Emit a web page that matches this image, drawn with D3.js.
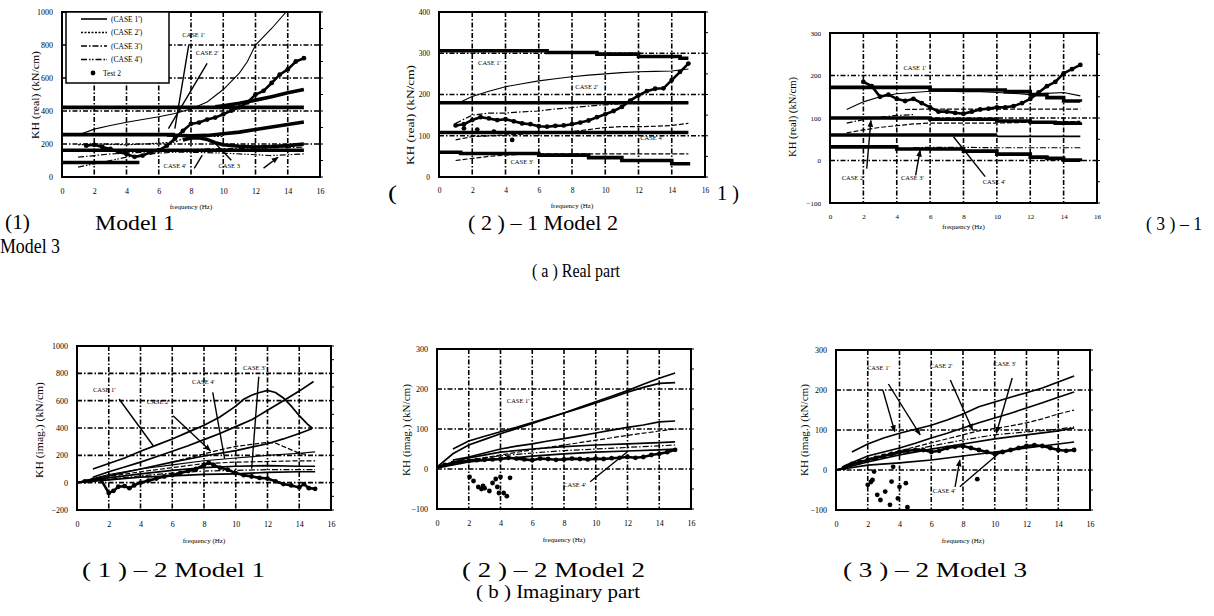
<!DOCTYPE html>
<html>
<head>
<meta charset="utf-8">
<script src="https://cdn.jsdelivr.net/npm/d3@7"></script>
<style>
  body { margin: 0; background: #fff; }
  svg { display: block; }
  text { font-family: "Liberation Serif", "Times New Roman", serif; fill: #000; }
</style>
</head>
<body>
<div id="chart"></div>
<script>
// ---- ticks ----
var freqTicks = [0, 2, 4, 6, 8, 10, 12, 14, 16];
var yTicks1000 = [0, 200, 400, 600, 800, 1000];
var yTicks400 = [0, 100, 200, 300, 400];
var yTicks300 = [-100, 0, 100, 200, 300];
var yTicksImag1 = [-200, 0, 200, 400, 600, 800, 1000];

// ---- (1) Model 1, real ----
var m1rCase1 = [[1,255],[2,290],[3,312],[4,332],[5,348],[6,365],[7,385],[8,412],[9,455],[10,530],[11,630],[11.5,700],[12,800],[13,900],[13.9,1000]];
var m1rFlatLevels = [422, 257, 162, 88];
var m1rFlatEnds = [15, 7, 15, 4.8];
var m1rRise1 = [[6.5,255],[8,250],[9,252],[10,262],[11,272],[12,288],[13,303],[14,318],[15,333]];
var m1rRise2 = [[9.5,425],[10,432],[11,447],[12,466],[13,487],[14,510],[15,530]];
var m1rHump = [[7.5,225],[8,236],[8.5,238],[9,228],[9.5,208],[10,195],[11,186],[12,182],[13,185],[14,190],[15,200]];
var m1rCase2 = [[1,195],[2,200],[3,198],[4,195],[5,200],[6,205],[7,212],[7.5,232],[8,245],[9,248],[10,245]];
var m1rCase3 = [[1,120],[2,130],[3,140],[4,145],[5,150],[6,155],[7,160],[8,165],[9,170],[10,172],[12,175],[14,178],[15,182]];
var m1rCase4 = [[1,60],[2,80],[3,100],[4,120],[5,135],[6,145],[7,150],[8,150],[10,145],[12,135],[13,130],[14,135],[15,140]];
var m1rTest = [[1.5,190],[2,195],[2.5,182],[3,170],[3.5,152],[4,140],[4.5,122],[5,130],[5.5,150],[6,162],[6.5,190],[7,232],[7.5,280],[8,322],[8.5,330],[9,348],[9.5,360],[10,380],[10.5,402],[11,422],[11.5,452],[12,500],[12.5,522],[13,570],[13.5,620],[14,652],[14.5,700],[15,720]];

// ---- (2) Model 2, real ----
var m2rTop = [[0,306],[6.5,302],[9.5,298],[12,292],[14.5,288],[15,288]];
var m2rThin = [[1.2,180],[2,195],[3,208],[4,219],[5,226],[6,233],[7,238],[8,243],[9,247],[10,250],[11,253],[12,255],[13,256],[14,257],[15,262]];
var m2rFlatLevels = [180, 108];
var m2rLow = [[0,60],[1.3,57],[6,53],[9,47],[11,40],[14,32],[15,28]];
var m2rTest = [[1,125],[1.5,128],[2,138],[2.5,145],[3,142],[3.5,138],[4,140],[4.5,135],[5,130],[5.5,128],[6,123],[6.5,122],[7,124],[7.5,125],[8,128],[8.5,132],[9,137],[9.5,145],[10,152],[10.5,160],[11,170],[11.5,185],[12,198],[12.5,208],[13,214],[13.5,215],[14,235],[14.5,255],[15,275]];
var m2rScatter = [[2.3,115],[3.3,110],[4.4,90],[1.5,118]];
var m2rDash1 = [[1,130],[2,150],[3,155],[4,155],[5,158],[6,160],[7,165],[8,168],[9,172],[10,175],[11,178],[12,180],[15,180]];
var m2rDash2 = [[1,90],[2,98],[3,100],[4,102],[5,104],[6,106],[7,108],[8,110],[9,115],[10,120],[11,122],[12,122],[13,123],[14,125],[15,130]];
var m2rDash3 = [[1,40],[2,45],[3,50],[4,53],[5,55],[6,56],[8,56],[10,56],[12,56],[15,56]];

// ---- (3) Model 3, real ----
var m3rTop = [[0,172],[6,166],[10.5,162],[12,155],[13,148],[14,140],[15,138]];
var m3rThin = [[1,120],[2,138],[3,150],[4,157],[5,160],[6,163],[7,163],[8,162],[9,162],[10,160],[11,158],[12,155],[13,158],[14,160],[15,152]];
var m3rTest = [[2,185],[2.5,175],[3,150],[3.5,155],[4,145],[4.5,140],[5,145],[5.5,135],[6,125],[6.5,115],[7,115],[7.5,112],[8,110],[8.5,115],[9,120],[9.5,122],[10,125],[10.5,125],[11,128],[11.5,135],[12,145],[12.5,160],[13,175],[13.5,185],[14,205],[14.5,215],[15,225]];
var m3rMid = [[0,100],[6,97],[10,93],[12,90],[13.5,88],[15,90]];
var m3rSixty = [[0,60],[10,60]];
var m3rSixtyThin = [[10,57],[15,57]];
var m3rLow = [[0,32],[4,27],[8,22],[10,15],[12,8],[13,5],[14,1],[15,-2]];
var m3rDash1 = [[4.5,120],[6,121],[8,121],[10,121],[12,121],[14,121],[15,121]];
var m3rDash2 = [[1,65],[2,72],[3,78],[4,82],[5,86],[6,88],[8,88],[10,88],[12,90],[15,92]];
var m3rDash3 = [[5,30],[6,31],[8,31],[10,30],[12,30],[14,30],[15,30]];
var m3rDash4 = [[1,88],[2,96],[3,102],[4,106],[5,108]];

// ---- (1)-2 Model 1, imaginary ----
var m1iCase1 = [[1,100],[2,140],[3,180],[4,230],[5,275],[6,320],[7,370],[8,420],[9,480],[10,560],[10.5,610],[11,640],[11.5,660],[12,675],[12.5,660],[13,620],[13.5,560],[14,490],[14.5,430],[14.8,400]];
var m1iB = [[1,40],[2,80],[3,115],[4,150],[5,190],[6,230],[7,270],[8,315],[9,360],[10,410],[11,460],[12,530],[13,600],[14,670],[14.9,740]];
var m1iC = [[0,0],[2,50],[4,100],[6,150],[8,195],[10,235],[12,285],[13,320],[14,360],[14.8,395]];
var m1iDash = [[6,150],[7,180],[8,210],[9,240],[10,265],[11,280],[12,295],[12.5,290],[13,265],[13.5,240],[14,215],[14.5,205]];
var m1iLow1 = [[0,0],[2,60],[4,100],[6,130],[8,160],[10,180],[12,200],[14,215],[15,225]];
var m1iLow2 = [[0,0],[2,45],[4,80],[6,110],[8,140],[10,150],[12,155],[14,160],[15,160]];
var m1iLow3 = [[0,0],[2,35],[4,65],[6,90],[8,110],[10,120],[12,125],[14,120],[15,120]];
var m1iLow4 = [[0,0],[2,25],[4,50],[6,70],[8,85],[10,90],[12,95],[14,95],[15,95]];
var m1iLow5 = [[0,0],[2,20],[4,40],[6,50],[8,60],[10,65],[12,75],[14,80],[15,80]];
var m1iTest = [[0.5,10],[1,20],[1.5,25],[2,-75],[2.3,-60],[2.6,-30],[3,-25],[3.3,-40],[3.6,-20],[4,0],[4.5,15],[5,30],[5.5,45],[6,55],[6.5,70],[7,85],[7.5,100],[8,130],[8.3,145],[8.6,130],[9,110],[9.5,95],[10,70],[10.5,55],[11,45],[11.5,35],[12,30],[12.5,10],[13,-10],[13.5,-20],[14,-35],[14.3,-10],[14.6,-40],[15,-45]];

// ---- (2)-2 Model 2, imaginary ----
var m2iA = [[0,5],[1,38],[2,60],[3,74],[4,88],[5,101],[6,114],[7,127],[8,140],[9,152],[10,165],[11,178],[12,192],[13,204],[14,214],[15,216]];
var m2iB = [[1,50],[2,70],[3,82],[4,93],[5,104],[6,116],[7,128],[8,140],[9,154],[10,168],[11,182],[12,196],[13,212],[14,227],[15,240]];
var m2iC = [[1,22],[2,30],[3,40],[4,50],[5,57],[6,63],[7,70],[8,76],[9,83],[10,90],[11,97],[12,104],[13,110],[14,118],[15,120]];
var m2iD = [[2,22],[4,35],[6,48],[8,60],[10,72],[12,84],[14,95],[15,100]];
var m2iE = [[0,5],[2,28],[4,42],[6,50],[8,56],[10,60],[12,63],[14,66],[15,68]];
var m2iF = [[0,5],[2,22],[4,33],[6,40],[8,46],[10,50],[12,54],[14,58],[15,60]];
var m2iG = [[0,3],[2,18],[4,25],[6,32],[8,38],[10,42],[12,45],[14,48],[15,50]];
var m2iTest = [[0,5],[0.5,10],[1,15],[1.5,18],[2,20],[2.5,22],[3,23],[3.5,24],[4,25],[4.5,28],[5,26],[5.5,24],[6,22],[6.5,26],[7,25],[7.5,23],[8,24],[8.5,26],[9,25],[9.5,24],[10,26],[10.5,25],[11,27],[11.5,28],[12,30],[12.5,28],[13,30],[13.5,35],[14,38],[14.5,42],[15,48]];
var m2iScatter = [[2.05,-20],[2.3,-30],[2.6,-45],[2.8,-50],[3.0,-48],[3.3,-55],[3.5,-35],[3.7,-25],[3.8,-45],[4.0,-20],[4.2,-60],[4.4,-68],[4.6,-22],[2.9,-42],[3.9,-60]];

// ---- (3)-2 Model 3, imaginary ----
var m3iA = [[1,45],[2,65],[3,80],[4,92],[5,102],[6,112],[7,125],[8,140],[9,158],[10,170],[11,182],[12,193],[13,205],[14,220],[15,235]];
var m3iB = [[0.5,10],[2,35],[3,45],[4,55],[5,67],[6,80],[7,92],[8,105],[9,118],[10,130],[11,142],[12,155],[13,168],[14,182],[15,195]];
var m3iC = [[2,28],[4,48],[6,68],[8,88],[9,98],[10,104],[11,110],[12,118],[13,128],[14,140],[15,150]];
var m3iD = [[0,0],[2,20],[4,38],[6,52],[8,65],[10,78],[12,88],[14,98],[15,105]];
var m3iE = [[0,0],[2,25],[4,42],[6,60],[8,75],[10,88],[12,95],[14,102],[15,108]];
var m3iF = [[0,0],[2,12],[4,18],[6,25],[8,35],[10,45],[12,55],[14,65],[15,70]];
var m3iTest = [[0.5,5],[1,15],[1.5,20],[2,25],[2.5,30],[3,35],[3.5,40],[4,45],[4.5,48],[5,50],[5.5,50],[6,45],[6.5,48],[7,55],[7.5,58],[8,60],[8.5,55],[9,50],[9.5,45],[10,40],[10.5,45],[11,50],[11.5,55],[12,60],[12.5,62],[13,60],[13.5,55],[14,50],[14.5,48],[15,50]];
var m3iScatter = [[2.0,-37],[2.3,-25],[2.4,-4],[2.6,-62],[2.8,-75],[3.1,-54],[3.4,-87],[3.5,-29],[3.6,8],[3.9,-71],[4.0,-42],[4.4,-33],[4.5,-93],[8.9,-23],[2.2,-30]];

// legend
var legendNames = ["(CASE 1')", "(CASE 2')", "(CASE 3')", "(CASE 4')", "Test 2"];
var legendStyles = ["thin", "dot", "dashdot", "dashdot2", "test"];

var W = 1214, H = 616;

var STYLE = {
    thin: { w: 1.1, dash: null },
    med: { w: 1.7, dash: null },
    thick: { w: 3.6, dash: null },
    dash: { w: 1.2, dash: "5,2" },
    dot: { w: 1.2, dash: "2,1.5" },
    dashdot: { w: 1.2, dash: "6,2,1.5,2" },
    dashdot2: { w: 1.2, dash: "6,2,1.5,1.5,1.5,2" },
    test: { w: 2.6, dash: null }
};

function flats(levels, ends) {
    return levels.map(function (v, i) {
        return { d: [[0, v], [ends ? ends[i] : 15, v]], s: "thick" };
    });
}

var panels = [
    {
        box: [62, 320, 12, 177], yDomain: [0, 1000], yTicks: yTicks1000,
        ylabel: "KH (real) (kN/cm)", ylabX: 36, ylabY: 95, ylabLen: 88,
        tickFont: 8, xlabOff: 32, legend: true,
        series: [{ d: m1rCase1, s: "thin" }].concat(flats(m1rFlatLevels, m1rFlatEnds), [
            { d: m1rRise1, s: "thick" }, { d: m1rRise2, s: "thick" }, { d: m1rHump, s: "thick" },
            { d: m1rCase2, s: "dot" }, { d: m1rCase3, s: "dashdot" }, { d: m1rCase4, s: "dashdot2" },
            { d: m1rTest, s: "test" }
        ]),
        notes: [["CASE 1'", 7.45, 850], ["CASE 2'", 8.3, 740], ["CASE 4'", 6.3, 55], ["CASE 3", 9.7, 55]],
        arrows: [[7.85, 795, 7.0, 293, 0], [9.0, 689, 6.6, 293, 0], [8.2, 52, 8.7, 132, 0],
                 [10.5, 102, 9.5, 205, 0], [12.5, 54, 13.4, 120, 1]]
    },
    {
        box: [439, 705, 12, 177], yDomain: [0, 400], yTicks: yTicks400,
        ylabel: "KH (real) (kN/cm)", ylabX: 411, ylabY: 115, ylabLen: 100,
        tickFont: 7.5, xlabOff: 31,
        series: [
            { d: m2rTop, s: "thick", step: true }, { d: m2rThin, s: "thin" }
        ].concat(flats(m2rFlatLevels), [
            { d: m2rLow, s: "thick", step: true },
            { d: m2rDash1, s: "dashdot" }, { d: m2rDash2, s: "dash" }, { d: m2rDash3, s: "dash" },
            { d: m2rTest, s: "test" }, { d: m2rScatter, s: "scatter" }
        ]),
        notes: [["CASE 1'", 2.35, 271], ["CASE 2'", 8.2, 213], ["CASE 4'", 12.1, 90], ["CASE 3'", 4.3, 32]],
        arrows: []
    },
    {
        box: [830, 1097, 33, 203], yDomain: [-100, 300], yTicks: yTicks300,
        ylabel: "KH (real) (kN/cm)", ylabX: 793, ylabY: 117, ylabLen: 80,
        tickFont: 7, xlabOff: 26,
        series: [
            { d: m3rTop, s: "thick", step: true }, { d: m3rThin, s: "thin" },
            { d: m3rMid, s: "thick", step: true }, { d: m3rSixty, s: "thick" }, { d: m3rSixtyThin, s: "med" },
            { d: m3rLow, s: "thick", step: true },
            { d: m3rDash1, s: "dash" }, { d: m3rDash2, s: "dash" }, { d: m3rDash3, s: "dashdot" }, { d: m3rDash4, s: "dashdot" },
            { d: m3rTest, s: "test" }
        ],
        notes: [["CASE 1'", 4.4, 214], ["CASE 2'", 0.7, -45], ["CASE 3'", 4.25, -45], ["CASE 4'", 9.15, -56]],
        arrows: [[2.2, -19, 2.45, 94, 1], [5.13, -35, 5.4, 24, 1], [9.3, -38, 7.4, 56, 0]]
    },
    {
        box: [77, 331, 346, 510], yDomain: [-200, 1000], yTicks: yTicksImag1,
        ylabel: "KH (imag.) (kN/cm)", ylabX: 40, ylabY: 430, ylabLen: 96,
        tickFont: 8, xlabOff: 33,
        series: [
            { d: m1iCase1, s: "med" }, { d: m1iB, s: "med" }, { d: m1iC, s: "med" }, { d: m1iDash, s: "dash" },
            { d: m1iLow1, s: "thin" }, { d: m1iLow2, s: "dash" }, { d: m1iLow3, s: "med" },
            { d: m1iLow4, s: "dashdot" }, { d: m1iLow5, s: "med" },
            { d: m1iTest, s: "test" }
        ],
        notes: [["CASE 1'", 1.0, 666], ["CASE 2'", 4.4, 578], ["CASE 4'", 7.25, 724], ["CASE 3'", 10.45, 827]],
        arrows: [[2.65, 612, 4.8, 270, 0], [6.05, 490, 8.4, 234, 1], [8.55, 660, 9.3, 175, 0], [11.45, 775, 11.0, 102, 0]]
    },
    {
        box: [437, 691, 349, 509], yDomain: [-100, 300], yTicks: yTicks300,
        ylabel: "KH (imag.) (kN/cm)", ylabX: 407, ylabY: 430, ylabLen: 92,
        tickFont: 8, xlabOff: 33,
        series: [
            { d: m2iA, s: "med" }, { d: m2iB, s: "med" }, { d: m2iC, s: "med" }, { d: m2iD, s: "dash" },
            { d: m2iE, s: "med" }, { d: m2iF, s: "dashdot" }, { d: m2iG, s: "med" },
            { d: m2iTest, s: "test" }, { d: m2iScatter, s: "scatter" }
        ],
        notes: [["CASE 1'", 4.4, 165], ["CASE 4'", 7.95, -45]],
        arrows: [[9.65, -32, 12.0, 43, 0]]
    },
    {
        box: [836, 1090, 350, 510], yDomain: [-100, 300], yTicks: yTicks300,
        ylabel: "KH (imag.) (kN/cm)", ylabX: 805, ylabY: 430, ylabLen: 92,
        tickFont: 8, xlabOff: 33,
        series: [
            { d: m3iA, s: "med" }, { d: m3iB, s: "med" }, { d: m3iC, s: "dash" },
            { d: m3iD, s: "med" }, { d: m3iE, s: "dashdot" }, { d: m3iF, s: "med" },
            { d: m3iTest, s: "test" }, { d: m3iScatter, s: "scatter" }
        ],
        notes: [["CASE 1'", 1.95, 250], ["CASE 2'", 5.9, 255], ["CASE 3'", 9.9, 260], ["CASE 4'", 6.1, -57]],
        arrows: [[2.95, 200, 3.7, 96, 1], [3.3, 215, 5.3, 88, 1], [7.2, 225, 8.6, 100, 1],
                 [11.1, 230, 10.1, 92, 1], [7.5, -42, 7.8, 25, 1], [7.8, -42, 10.5, 50, 0]]
    }
];

var captions = [
    ["(1)", 5, 229, 20, 25], ["Model 1", 95, 230, 22, 80], ["( 2 ) – 1  Model 2", 468, 230, 22, 150],
    ["( 3 ) – 1", 1146, 230, 19, 56], ["Model 3", 0, 253, 21, 60], ["( a )  Real part", 532, 277, 18, 88],
    ["(", 388, 200, 22, 9], ["1 )", 717, 200, 22, 22],
    ["( 1 ) – 2  Model 1", 82, 577, 22, 183], ["( 2 ) – 2  Model 2", 462, 577, 22, 183],
    ["( 3 ) – 2  Model 3", 843, 577, 22, 184], ["( b ) Imaginary part", 476, 598, 18, 164]
];

var svg = d3.select("#chart").append("svg").attr("width", W).attr("height", H);

svg.append("defs").append("marker")
    .attr("id", "head").attr("viewBox", "0 0 10 10")
    .attr("refX", 9).attr("refY", 5)
    .attr("markerWidth", 5).attr("markerHeight", 5)
    .attr("orient", "auto")
    .append("path").attr("d", "M0,1 L10,5 L0,9 Z").attr("fill", "#000");

function drawPanel(p, idx) {
    var x0 = p.box[0], x1 = p.box[1], y0 = p.box[2], y1 = p.box[3];
    var x = d3.scaleLinear().domain([0, 16]).range([x0, x1]);
    var y = d3.scaleLinear().domain(p.yDomain).range([y1, y0]);
    var g = svg.append("g").attr("class", "panel");

    g.append("clipPath").attr("id", "clip" + idx)
        .append("rect").attr("x", x0).attr("y", y0).attr("width", x1 - x0).attr("height", y1 - y0);

    // grid
    g.selectAll(".vg").data(freqTicks.slice(1, -1)).join("line")
        .attr("x1", function (d) { return x(d); }).attr("x2", function (d) { return x(d); })
        .attr("y1", y0).attr("y2", y1)
        .attr("stroke", "#000").attr("stroke-width", 1.6).attr("stroke-dasharray", "5,2,1.5,2");
    g.selectAll(".hg").data(p.yTicks.slice(1, -1)).join("line")
        .attr("y1", function (d) { return y(d); }).attr("y2", function (d) { return y(d); })
        .attr("x1", x0).attr("x2", x1)
        .attr("stroke", "#000").attr("stroke-width", 1.6).attr("stroke-dasharray", "5,2,1.5,2");

    var plot = g.append("g").attr("clip-path", "url(#clip" + idx + ")");
    var line = d3.line().x(function (d) { return x(d[0]); }).y(function (d) { return y(d[1]); });
    var stepLine = d3.line().curve(d3.curveStepAfter).x(function (d) { return x(d[0]); }).y(function (d) { return y(d[1]); });

    p.series.forEach(function (s) {
        if (s.s === "scatter" || s.s === "test") {
            if (s.s === "test") {
                plot.append("path").attr("d", line(s.d)).attr("fill", "none")
                    .attr("stroke", "#000").attr("stroke-width", STYLE.test.w);
            }
            plot.selectAll(null).data(s.d).join("circle")
                .attr("cx", function (d) { return x(d[0]); })
                .attr("cy", function (d) { return y(d[1]); })
                .attr("r", 2.4).attr("fill", "#000");
            return;
        }
        var st = STYLE[s.s];
        plot.append("path").attr("d", (s.step ? stepLine : line)(s.d))
            .attr("fill", "none").attr("stroke", "#000")
            .attr("stroke-width", st.w)
            .attr("stroke-dasharray", st.dash);
    });

    // annotations
    g.selectAll(".note").data(p.notes).join("text")
        .attr("x", function (d) { return x(d[1]); })
        .attr("y", function (d) { return y(d[2]); })
        .attr("font-size", 6.5).text(function (d) { return d[0]; });
    g.selectAll(".arr").data(p.arrows).join("line")
        .attr("x1", function (d) { return x(d[0]); }).attr("y1", function (d) { return y(d[1]); })
        .attr("x2", function (d) { return x(d[2]); }).attr("y2", function (d) { return y(d[3]); })
        .attr("stroke", "#000").attr("stroke-width", 1.4)
        .attr("marker-end", function (d) { return d[4] ? "url(#head)" : null; });

    // frame
    g.append("rect").attr("x", x0).attr("y", y0).attr("width", x1 - x0).attr("height", y1 - y0)
        .attr("fill", "none").attr("stroke", "#000").attr("stroke-width", 2);

    // minor ticks on right axis
    var step = p.yTicks[1] - p.yTicks[0];
    var minor = d3.range(p.yDomain[0], p.yDomain[1] + 1e-9, step / 2);
    g.selectAll(".mt").data(minor).join("line")
        .attr("x1", x1).attr("x2", x1 + 3)
        .attr("y1", function (d) { return y(d); }).attr("y2", function (d) { return y(d); })
        .attr("stroke", "#000").attr("stroke-width", 1);

    // axes
    var fmt = d3.format("d");
    var ay = g.append("g").attr("transform", "translate(" + x0 + ",0)")
        .call(d3.axisLeft(y).tickValues(p.yTicks).tickFormat(fmt).tickSize(0).tickPadding(9));
    var ax = g.append("g").attr("transform", "translate(0," + y1 + ")")
        .call(d3.axisBottom(x).tickValues(freqTicks).tickFormat(fmt).tickSize(0).tickPadding(11));
    [ay, ax].forEach(function (a) {
        a.select(".domain").remove();
        a.selectAll("text").attr("font-size", p.tickFont)
            .attr("font-family", "'Liberation Serif', serif").attr("fill", "#000");
    });

    g.append("text")
        .attr("x", (x0 + x1) / 2).attr("y", y1 + p.xlabOff)
        .attr("text-anchor", "middle").attr("font-size", 7)
        .text("frequency (Hz)");

    g.append("text")
        .attr("transform", "translate(" + p.ylabX + "," + p.ylabY + ") rotate(-90)")
        .attr("text-anchor", "middle").attr("dy", "0.35em")
        .attr("font-size", 9.5)
        .attr("textLength", p.ylabLen).attr("lengthAdjust", "spacingAndGlyphs")
        .text(p.ylabel);

    if (p.legend) {
        var lx = x0 + 4, ly = y0;
        g.append("rect").attr("x", lx).attr("y", ly).attr("width", 103).attr("height", 71)
            .attr("fill", "#fff").attr("stroke", "#000").attr("stroke-width", 1.5);
        var rows = g.selectAll(".lg").data(legendNames).join("g")
            .attr("transform", function (d, i) { return "translate(" + lx + "," + (ly + 7 + i * 13.5) + ")"; });
        rows.each(function (d, i) {
            var r = d3.select(this);
            var key = legendStyles[i];
            if (key === "test") {
                r.append("circle").attr("cx", 27).attr("cy", 0).attr("r", 2.4).attr("fill", "#000");
                r.append("text").attr("x", 37).attr("y", 0).attr("dy", "0.35em").attr("font-size", 7.5).text(d);
            } else {
                r.append("line").attr("x1", 15).attr("x2", 41).attr("y1", 0).attr("y2", 0)
                    .attr("stroke", "#000").attr("stroke-width", 1.6)
                    .attr("stroke-dasharray", STYLE[key].dash);
                r.append("text").attr("x", 45).attr("y", 0).attr("dy", "0.35em").attr("font-size", 7.5).text(d);
            }
        });
    }
}

panels.forEach(drawPanel);

svg.selectAll(".cap").data(captions).join("text")
    .attr("x", function (d) { return d[1]; })
    .attr("y", function (d) { return d[2]; })
    .attr("font-size", function (d) { return d[3]; })
    .attr("textLength", function (d) { return d[4]; })
    .attr("lengthAdjust", "spacingAndGlyphs")
    .text(function (d) { return d[0]; });
</script>
</body>
</html>
